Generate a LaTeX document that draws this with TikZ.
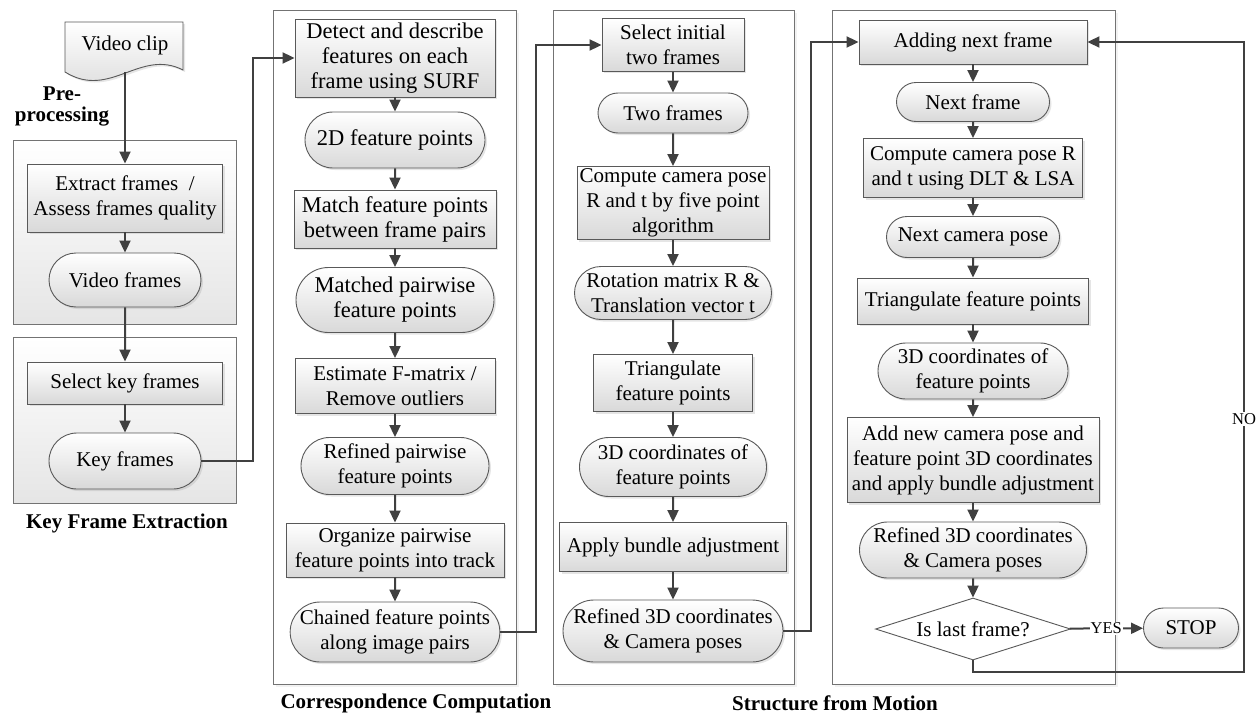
\documentclass[tikz,border=0pt]{standalone}
\usepackage{fontspec}
\setmainfont{Liberation Serif}
\usetikzlibrary{shapes,arrows.meta,shadows,calc}

\begin{document}
\begin{tikzpicture}[x=1pt,y=-1pt]
  \tikzstyle{base}=[draw=black!65, line width=0.9pt, top color=white, bottom color=black!15, inner sep=0pt, align=center, font=\fontsize{21}{25}\selectfont, drop shadow={shadow xshift=2pt, shadow yshift=-2pt, opacity=0.2}]
  \tikzstyle{proc}=[base, rectangle]
  \tikzstyle{term}=[base, rounded rectangle]
  \tikzstyle{decide}=[diamond, draw=black!65, line width=0.9pt, fill=white, inner sep=0pt, aspect=3, font=\fontsize{21}{25}\selectfont]
  \tikzstyle{big}=[font=\fontsize{22.5}{25}\selectfont]
  \tikzstyle{grp}=[draw=black!55, line width=0.9pt]
  \tikzstyle{arr}=[draw=black!75, line width=2pt, -{Triangle[length=12pt,width=11pt]}]
  \tikzstyle{title}=[font=\bfseries\fontsize{21}{21}\selectfont, align=center]
  \tikzstyle{tag}=[fill=white, inner sep=1pt, font=\fontsize{16.5}{18}\selectfont]

  \useasboundingbox (0,0) rectangle (1259,717);

  % Bloques
  \draw[grp, top color=white, bottom color=black!10] (13,140) rectangle (236,324);
  \draw[grp, top color=white, bottom color=black!10] (13,337) rectangle (236,503);
  \draw[grp, fill=white, drop shadow={shadow xshift=3pt, shadow yshift=-3pt, opacity=0.1}] (273,10) rectangle (516,684);
  \draw[grp, fill=white, drop shadow={shadow xshift=3pt, shadow yshift=-3pt, opacity=0.1}] (553,10) rectangle (794,684);
  \draw[grp, fill=white, drop shadow={shadow xshift=3pt, shadow yshift=-3pt, opacity=0.1}] (832,10) rectangle (1115,684);

  % Extraccion de frames clave
  \draw[base] (65,22) -- (183,22) -- (183,70) .. controls (140,48) and (110,100) .. (65,72) -- cycle;
  \node[draw=none, inner sep=0pt, minimum width=118pt, minimum height=54pt, font=\fontsize{21}{25}\selectfont] (clip) at (125,45) {Video clip};
  \node[proc, minimum width=195pt, minimum height=68pt] (extract) at (125,198) {Extract frames~~/\\Assess frames quality};
  \node[term, minimum width=152pt, minimum height=54pt] (vframes) at (125,280) {Video frames};
  \node[proc, minimum width=195pt, minimum height=42pt] (selkey) at (125,383) {Select key frames};
  \node[term, minimum width=152pt, minimum height=56pt] (keyfr) at (125,461) {Key frames};
  \node[title] (lpre) at (62,106) {Pre-\\processing};
  \node[title] (lkey) at (127,523) {Key Frame Extraction};

  % Correspondencias
  \node[proc, big, minimum width=200pt, minimum height=78pt] (detect) at (395,58) {Detect and describe\\features on each\\frame using SURF};
  \node[term, big, minimum width=180pt, minimum height=56pt] (pts2d) at (395,140) {2D feature points};
  \node[proc, big, minimum width=202pt, minimum height=58pt] (match) at (395,219) {Match feature points\\between frame pairs};
  \node[term, big, minimum width=198pt, minimum height=65pt] (matched) at (395,300) {Matched pairwise\\feature points};
  \node[proc, minimum width=200pt, minimum height=55pt] (estimate) at (395,386) {Estimate F-matrix /\\Remove outliers};
  \node[term, minimum width=188pt, minimum height=57pt] (refined) at (395,466) {Refined pairwise\\feature points};
  \node[proc, minimum width=218pt, minimum height=54pt] (organize) at (395,550) {Organize pairwise\\feature points into track};
  \node[term, minimum width=204pt, minimum height=60pt] (chained) at (395,632) {Chained feature points\\along image pairs};
  \node[title] (lcorr) at (416,703) {Correspondence Computation};

  % Estructura desde movimiento: par inicial
  \node[proc, minimum width=142pt, minimum height=53pt] (selinit) at (673,45) {Select initial\\two frames};
  \node[term, minimum width=150pt, minimum height=40pt] (twofr) at (673,113) {Two frames};
  \node[proc, minimum width=192pt, minimum height=73pt] (pose3) at (673,203) {Compute camera pose\\R and t by five point\\algorithm};
  \node[term, minimum width=197pt, minimum height=53pt] (rotmat) at (673,293) {Rotation matrix R \&\\Translation vector t};
  \node[proc, minimum width=159pt, minimum height=57pt] (tri3) at (673,383) {Triangulate\\feature points};
  \node[term, minimum width=187pt, minimum height=59pt] (coord3) at (673,467) {3D coordinates of\\feature points};
  \node[proc, minimum width=227pt, minimum height=49pt] (bundle3) at (673,547) {Apply bundle adjustment};
  \node[term, minimum width=220pt, minimum height=62pt] (refined3) at (673,631) {Refined 3D coordinates\\\& Camera poses};
  \node[title] (lsfm) at (835,703) {Structure from Motion};

  % Estructura desde movimiento: frames siguientes
  \node[proc, minimum width=228pt, minimum height=44pt] (addnext) at (973,42) {Adding next frame};
  \node[term, minimum width=153pt, minimum height=39pt] (nextfr) at (973,102) {Next frame};
  \node[proc, minimum width=219pt, minimum height=59pt] (pose4) at (973,168) {Compute camera pose R\\and t using DLT \& LSA};
  \node[term, minimum width=173pt, minimum height=41pt] (nextpose) at (973,237) {Next camera pose};
  \node[proc, minimum width=231pt, minimum height=46pt] (tri4) at (973,301) {Triangulate feature points};
  \node[term, minimum width=190pt, minimum height=56pt] (coord4) at (973,371) {3D coordinates of\\feature points};
  \node[proc, minimum width=252pt, minimum height=85pt] (addnew) at (973,460) {Add new camera pose and\\feature point 3D coordinates\\and apply bundle adjustment};
  \node[term, minimum width=227pt, minimum height=56pt] (refined4) at (973,550) {Refined 3D coordinates\\\& Camera poses};
  \node[decide, minimum width=195pt, minimum height=62pt] (last) at (973,629) {Is last frame?};
  \node[term, minimum width=95pt, minimum height=40pt] (stop) at (1191,628) {STOP};

  % Conexiones
  \draw[arr] (clip) -- (extract);
  \draw[arr] (extract) -- (vframes);
  \draw[arr] (vframes) -- (selkey);
  \draw[arr] (selkey) -- (keyfr);
  \draw[arr] (keyfr.east) -- ++(52,0) |- (detect.west);

  \draw[arr] (detect) -- (pts2d);
  \draw[arr] (pts2d) -- (match);
  \draw[arr] (match) -- (matched);
  \draw[arr] (matched) -- (estimate);
  \draw[arr] (estimate) -- (refined);
  \draw[arr] (refined) -- (organize);
  \draw[arr] (organize) -- (chained);
  \draw[arr] (chained.east) -- ++(36,0) |- (selinit.west);

  \draw[arr] (selinit) -- (twofr);
  \draw[arr] (twofr) -- (pose3);
  \draw[arr] (pose3) -- (rotmat);
  \draw[arr] (rotmat) -- (tri3);
  \draw[arr] (tri3) -- (coord3);
  \draw[arr] (coord3) -- (bundle3);
  \draw[arr] (bundle3) -- (refined3);
  \draw[arr] (refined3.east) -- ++(28,0) |- (addnext.west);

  \draw[arr] (addnext) -- (nextfr);
  \draw[arr] (nextfr) -- (pose4);
  \draw[arr] (pose4) -- (nextpose);
  \draw[arr] (nextpose) -- (tri4);
  \draw[arr] (tri4) -- (coord4);
  \draw[arr] (coord4) -- (addnew);
  \draw[arr] (addnew) -- (refined4);
  \draw[arr] (refined4) -- (last);
  \draw[arr] (last) -- node[tag] (yes) {YES} (stop);
  \draw[arr] (last.south) -- ++(0,12) -| ([xshift=157pt]addnext.east) -- (addnext.east);
  \node[tag] (no) at (1244,419) {NO};
\end{tikzpicture}
\end{document}
